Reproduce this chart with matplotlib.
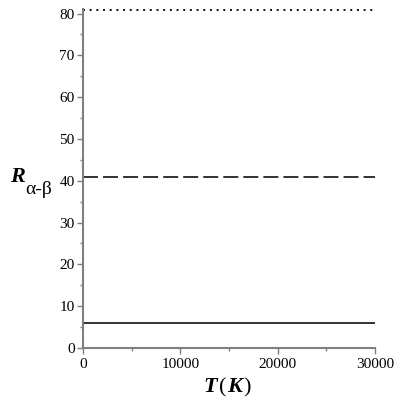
import numpy as np
import matplotlib
matplotlib.use("Agg")
import matplotlib.pyplot as plt

# 温度範囲と各線の値
T_RANGE = [0, 30000]
R_SOLID = 6.0
R_DASHED = 41.0
R_DOTTED = 80.9

XTICKS = [0, 10000, 20000, 30000]
YTICKS = [0, 10, 20, 30, 40, 50, 60, 70, 80]

plt.rcParams['font.family'] = ['Liberation Serif', 'DejaVu Serif']

fig = plt.figure(figsize=(4, 4), dpi=100)
ax = fig.add_axes([0.2075, 0.13, 0.73, 0.8475])

lc = "#222222"
lw = 1.3
ax.plot(T_RANGE, [R_SOLID, R_SOLID], color=lc, lw=lw, solid_capstyle="butt")
ax.plot(T_RANGE, [R_DASHED, R_DASHED], color=lc, lw=lw, dashes=(8.3, 2.8))
ax.plot(T_RANGE, [R_DOTTED, R_DOTTED], color="black", lw=lw, dashes=(1.1, 2.6))

ax.set_xlim(0, 30000)
ax.set_ylim(0, 81.1)
ax.set_xticks(XTICKS)
ax.set_yticks(YTICKS)
ax.set_xticks(np.arange(0, 30001, 5000), minor=True)
ax.set_yticks(np.arange(0, 81, 5), minor=True)
ax.set_xticklabels([str(v) for v in XTICKS])
ax.set_yticklabels([str(v) for v in YTICKS])

for s in ["top", "right"]:
    ax.spines[s].set_visible(False)
for s in ["left", "bottom"]:
    ax.spines[s].set_color("#7f7f7f")
    ax.spines[s].set_linewidth(1.5)
ax.tick_params(which="both", colors="#7f7f7f", labelcolor="black", labelsize=11)
ax.tick_params(which="major", length=4, width=1)
ax.tick_params(which="minor", length=2.5, width=1)
ax.tick_params(axis="y", pad=2)
ax.tick_params(axis="x", pad=3)

# 軸ラベル
fig.text(0.025, 0.545, "R", fontsize=16, fontweight="bold", fontstyle="italic", va="baseline")
fig.text(0.062, 0.516, "α-β", fontsize=14, va="baseline")

fig.text(0.508, 0.02, "T", fontsize=16, fontweight="bold", fontstyle="italic", va="baseline")
fig.text(0.548, 0.02, "(", fontsize=16, va="baseline")
fig.text(0.567, 0.02, "K", fontsize=16, fontweight="bold", fontstyle="italic", va="baseline")
fig.text(0.609, 0.02, ")", fontsize=16, va="baseline")

fig.savefig("out.png", dpi=100)
